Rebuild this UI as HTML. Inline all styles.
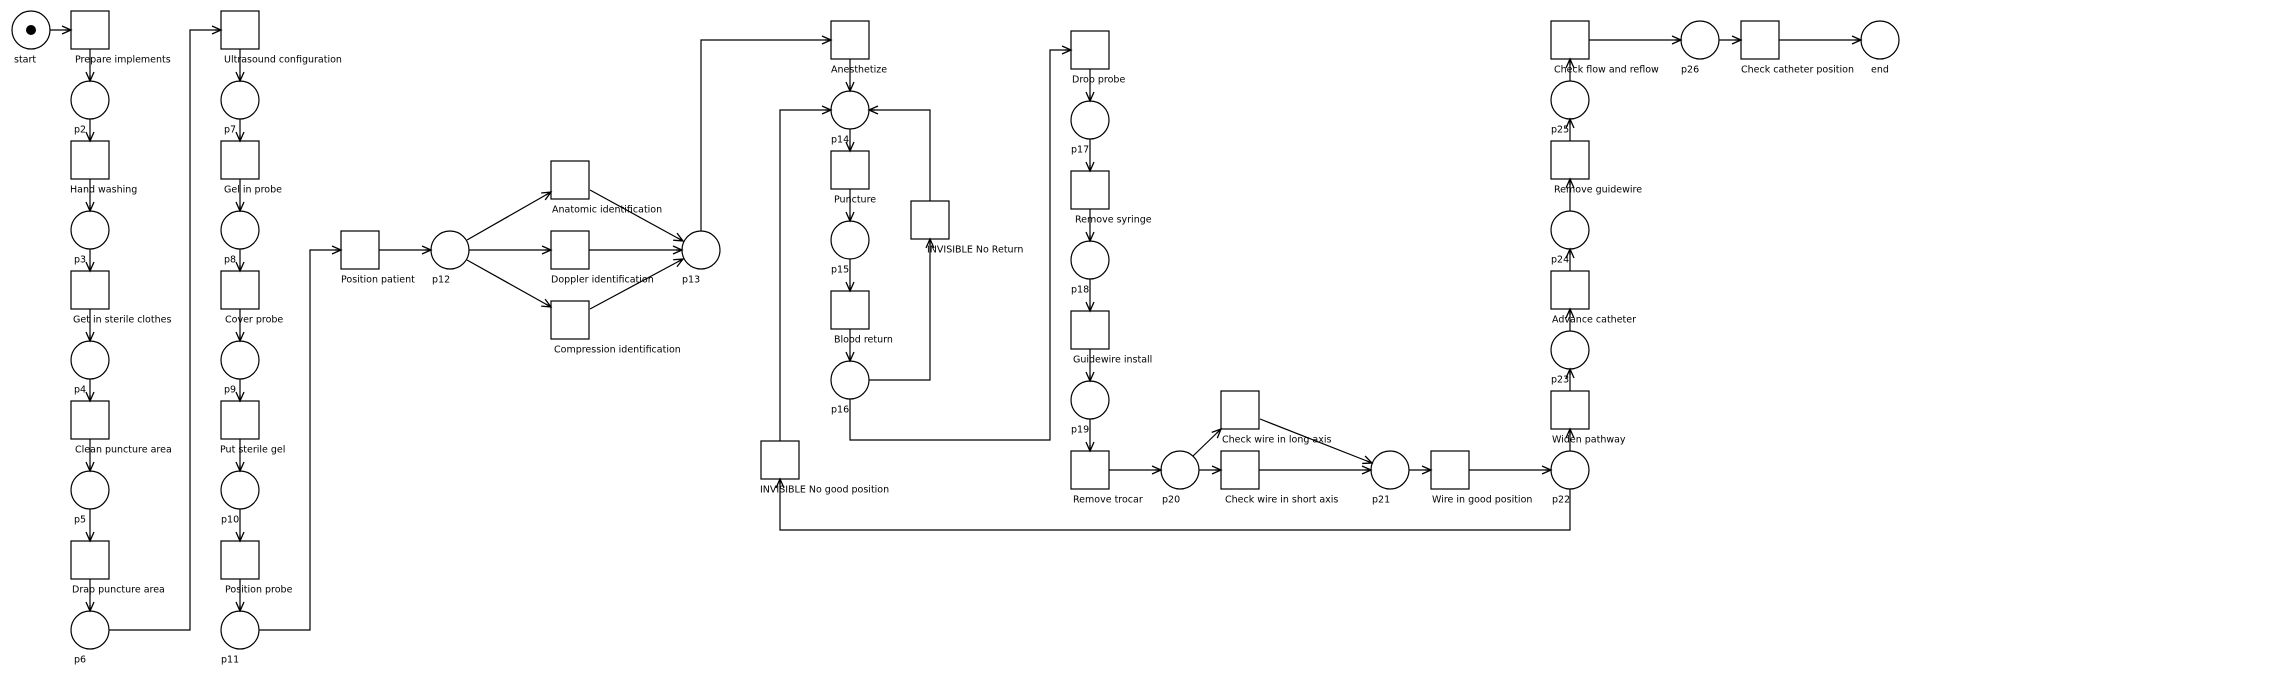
<!DOCTYPE html>
<html><head><meta charset="utf-8"><style>
html,body{margin:0;padding:0;background:#fff}
svg{display:block}
text{font-family:"DejaVu Sans","Liberation Sans",sans-serif;font-size:9.5px;fill:#000;dominant-baseline:middle}
</style></head><body>
<svg width="2285" height="681" viewBox="0 0 2285 681" xmlns="http://www.w3.org/2000/svg">
<defs>
<marker id="a" markerWidth="12" markerHeight="12" refX="10" refY="6" orient="auto" markerUnits="userSpaceOnUse">
<path d="M1,2 L10,6 L1,10 M4,6 L10,6" fill="none" stroke="#000" stroke-width="1.3"/>
</marker>
</defs>
<g fill="#fff" stroke="#000" stroke-width="1.2">
<!-- col1 -->
<circle cx="31" cy="30" r="19"/>
<rect x="71" y="11" width="38" height="38"/>
<circle cx="90" cy="100" r="19"/>
<rect x="71" y="141" width="38" height="38"/>
<circle cx="90" cy="230" r="19"/>
<rect x="71" y="271" width="38" height="38"/>
<circle cx="90" cy="360" r="19"/>
<rect x="71" y="401" width="38" height="38"/>
<circle cx="90" cy="490" r="19"/>
<rect x="71" y="541" width="38" height="38"/>
<circle cx="90" cy="630" r="19"/>
<!-- col2 -->
<rect x="221" y="11" width="38" height="38"/>
<circle cx="240" cy="100" r="19"/>
<rect x="221" y="141" width="38" height="38"/>
<circle cx="240" cy="230" r="19"/>
<rect x="221" y="271" width="38" height="38"/>
<circle cx="240" cy="360" r="19"/>
<rect x="221" y="401" width="38" height="38"/>
<circle cx="240" cy="490" r="19"/>
<rect x="221" y="541" width="38" height="38"/>
<circle cx="240" cy="630" r="19"/>
<!-- fan -->
<rect x="341" y="231" width="38" height="38"/>
<circle cx="450" cy="250" r="19"/>
<rect x="551" y="161" width="38" height="38"/>
<rect x="551" y="231" width="38" height="38"/>
<rect x="551" y="301" width="38" height="38"/>
<circle cx="701" cy="250" r="19"/>
<!-- col anesth -->
<rect x="831" y="21" width="38" height="38"/>
<circle cx="850" cy="110" r="19"/>
<rect x="831" y="151" width="38" height="38"/>
<circle cx="850" cy="240" r="19"/>
<rect x="831" y="291" width="38" height="38"/>
<circle cx="850" cy="380" r="19"/>
<rect x="911" y="201" width="38" height="38"/>
<rect x="761" y="441" width="38" height="38"/>
<!-- col drop -->
<rect x="1071" y="31" width="38" height="38"/>
<circle cx="1090" cy="120" r="19"/>
<rect x="1071" y="171" width="38" height="38"/>
<circle cx="1090" cy="260" r="19"/>
<rect x="1071" y="311" width="38" height="38"/>
<circle cx="1090" cy="400" r="19"/>
<rect x="1071" y="451" width="38" height="38"/>
<circle cx="1180" cy="470" r="19"/>
<rect x="1221" y="391" width="38" height="38"/>
<rect x="1221" y="451" width="38" height="38"/>
<circle cx="1390" cy="470" r="19"/>
<rect x="1431" y="451" width="38" height="38"/>
<circle cx="1570" cy="470" r="19"/>
<rect x="1551" y="391" width="38" height="38"/>
<circle cx="1570" cy="350" r="19"/>
<rect x="1551" y="271" width="38" height="38"/>
<circle cx="1570" cy="230" r="19"/>
<rect x="1551" y="141" width="38" height="38"/>
<circle cx="1570" cy="100" r="19"/>
<rect x="1551" y="21" width="38" height="38"/>
<circle cx="1700" cy="40" r="19"/>
<rect x="1741" y="21" width="38" height="38"/>
<circle cx="1880" cy="40" r="19"/>
</g>
<circle cx="31" cy="30" r="5" fill="#000"/>
<g fill="none" stroke="#000" stroke-width="1.2" marker-end="url(#a)">
<path d="M50,30 L71,30"/>
<path d="M90,49 L90,81"/><path d="M90,119 L90,141"/>
<path d="M90,179 L90,211"/><path d="M90,249 L90,271"/>
<path d="M90,309 L90,341"/><path d="M90,379 L90,401"/>
<path d="M90,439 L90,471"/><path d="M90,509 L90,541"/>
<path d="M90,579 L90,611"/>
<path d="M109,630 L190,630 L190,30 L221,30"/>
<path d="M240,49 L240,81"/><path d="M240,119 L240,141"/>
<path d="M240,179 L240,211"/><path d="M240,249 L240,271"/>
<path d="M240,309 L240,341"/><path d="M240,379 L240,401"/>
<path d="M240,439 L240,471"/><path d="M240,509 L240,541"/>
<path d="M240,579 L240,611"/>
<path d="M259,630 L310,630 L310,250 L341,250"/>
<path d="M379,250 L431,250"/>
<path d="M467,240 L551,192"/>
<path d="M469,250 L551,250"/>
<path d="M467,260 L551,307"/>
<path d="M590,190 L683,241"/>
<path d="M589,250 L682,250"/>
<path d="M590,309 L683,259"/>
<path d="M701,231 L701,40 L831,40"/>
<path d="M850,59 L850,91"/>
<path d="M850,129 L850,151"/>
<path d="M850,189 L850,221"/>
<path d="M850,259 L850,291"/>
<path d="M850,329 L850,361"/>
<path d="M869,380 L930,380 L930,239"/>
<path d="M930,201 L930,110 L869,110"/>
<path d="M780,441 L780,110 L831,110"/>
<path d="M850,399 L850,440 L1050,440 L1050,50 L1071,50"/>
<path d="M1090,69 L1090,101"/><path d="M1090,139 L1090,171"/>
<path d="M1090,209 L1090,241"/><path d="M1090,279 L1090,311"/>
<path d="M1090,349 L1090,381"/><path d="M1090,419 L1090,451"/>
<path d="M1109,470 L1161,470"/>
<path d="M1193,456 L1221,429"/>
<path d="M1199,470 L1221,470"/>
<path d="M1260,419 L1372,463"/>
<path d="M1259,470 L1371,470"/>
<path d="M1409,470 L1431,470"/>
<path d="M1469,470 L1551,470"/>
<path d="M1570,489 L1570,530 L780,530 L780,479"/>
<path d="M1570,451 L1570,429"/>
<path d="M1570,391 L1570,369"/>
<path d="M1570,331 L1570,309"/>
<path d="M1570,271 L1570,249"/>
<path d="M1570,211 L1570,179"/>
<path d="M1570,141 L1570,119"/>
<path d="M1570,81 L1570,59"/>
<path d="M1589,40 L1681,40"/>
<path d="M1719,40 L1741,40"/>
<path d="M1779,40 L1861,40"/>
</g>
<g>
<text x="14" y="60">start</text>
<text x="75" y="60">Prepare implements</text>
<text x="74" y="130">p2</text>
<text x="70" y="190">Hand washing</text>
<text x="74" y="260">p3</text>
<text x="73" y="320">Get in sterile clothes</text>
<text x="74" y="390">p4</text>
<text x="75" y="450">Clean puncture area</text>
<text x="74" y="520">p5</text>
<text x="72" y="590">Drap puncture area</text>
<text x="74" y="660">p6</text>
<text x="224" y="60">Ultrasound configuration</text>
<text x="224" y="130">p7</text>
<text x="224" y="190">Gel in probe</text>
<text x="224" y="260">p8</text>
<text x="225" y="320">Cover probe</text>
<text x="224" y="390">p9</text>
<text x="220" y="450">Put sterile gel</text>
<text x="221" y="520">p10</text>
<text x="225" y="590">Position probe</text>
<text x="221" y="660">p11</text>
<text x="341" y="280">Position patient</text>
<text x="432" y="280">p12</text>
<text x="552" y="210">Anatomic identification</text>
<text x="551" y="280">Doppler identification</text>
<text x="554" y="350">Compression identification</text>
<text x="682" y="280">p13</text>
<text x="831" y="70">Anesthetize</text>
<text x="831" y="140">p14</text>
<text x="834" y="200">Puncture</text>
<text x="831" y="270">p15</text>
<text x="834" y="340">Blood return</text>
<text x="831" y="410">p16</text>
<text x="927" y="250">INVISIBLE No Return</text>
<text x="760" y="490">INVISIBLE No good position</text>
<text x="1072" y="80">Drop probe</text>
<text x="1071" y="150">p17</text>
<text x="1075" y="220">Remove syringe</text>
<text x="1071" y="290">p18</text>
<text x="1073" y="360">Guidewire install</text>
<text x="1071" y="430">p19</text>
<text x="1073" y="500">Remove trocar</text>
<text x="1162" y="500">p20</text>
<text x="1222" y="440">Check wire in long axis</text>
<text x="1225" y="500">Check wire in short axis</text>
<text x="1372" y="500">p21</text>
<text x="1432" y="500">Wire in good position</text>
<text x="1552" y="500">p22</text>
<text x="1552" y="440">Widen pathway</text>
<text x="1551" y="380">p23</text>
<text x="1552" y="320">Advance catheter</text>
<text x="1551" y="260">p24</text>
<text x="1554" y="190">Remove guidewire</text>
<text x="1551" y="130">p25</text>
<text x="1554" y="70">Check flow and reflow</text>
<text x="1681" y="70">p26</text>
<text x="1741" y="70">Check catheter position</text>
<text x="1871" y="70">end</text>
</g>
</svg>
</body></html>
